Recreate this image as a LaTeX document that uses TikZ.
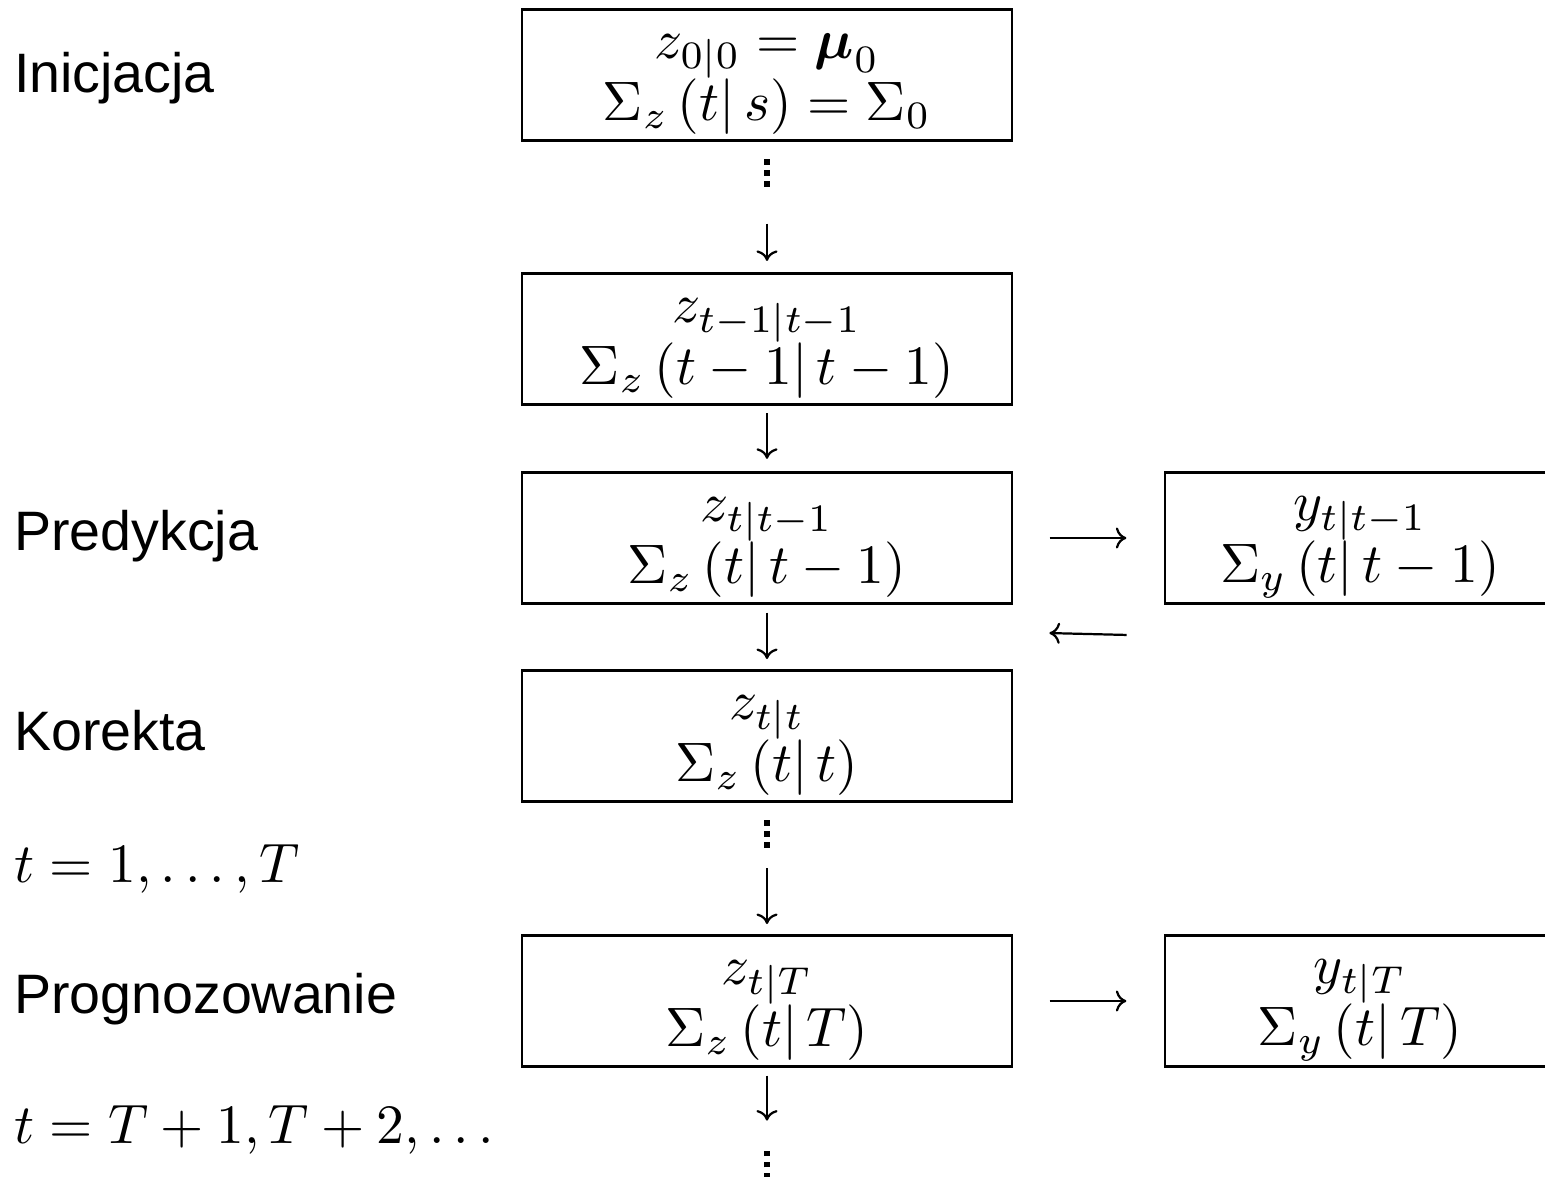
\documentclass[tikz,border=0pt]{standalone}
\usepackage{amsmath,amssymb}
\usepackage{fontspec}
\newfontfamily\labelfont{Liberation Sans}
\usetikzlibrary{arrows.meta}

\newcommand{\sqdots}{\vbox{\offinterlineskip\hbox{\rule{1pt}{1pt}}\kern1pt\hbox{\rule{1pt}{1pt}}\kern1pt\hbox{\rule{1pt}{1pt}}}}
\newcommand{\topstrut}{\rule{0pt}{7.7pt}}

\begin{document}
\begin{tikzpicture}[x=0.18pt,y=-0.18pt,
  box/.style={draw,line width=0.5pt,minimum width=88.2pt,minimum height=23.6pt,align=center,inner sep=1pt},
  obox/.style={box,minimum width=70.2pt},
  lab/.style={anchor=base west,inner sep=0pt,font=\labelfont},
  >={To[length=1.9pt,width=3.8pt]}]
\useasboundingbox (0,0) rectangle (1545,1177);
\clip (0,0) rectangle (1545,1177);
% labels
\node[lab] (L1) at (13,92) {Inicjacja};
\node[lab] (L2) at (13,550) {Predykcja};
\node[lab] (L3) at (13,750) {Korekta};
\node[lab,font=] (L4) at (13,882) {$t=1,\ldots,T$};
\node[lab] (L5) at (13,1013) {Prognozowanie};
\node[lab,font=] (L6) at (13,1143) {$t=T+1,T+2,\ldots$};
% boxes
\node[box] (A) at (767,75) {\topstrut$z_{0|0}=\boldsymbol{\mu}_0$\\[-1pt] $\Sigma_z\left(t\middle|\,s\right)=\Sigma_0$};
\node[box] (B) at (767,339) {\topstrut$z_{t-1|t-1}$\\[-1pt] $\Sigma_z\left(t-1\middle|\,t-1\right)$};
\node[box] (C) at (767,538) {\topstrut$z_{t|t-1}$\\[-1pt] $\Sigma_z\left(t\middle|\,t-1\right)$};
\node[box] (D) at (767,736) {\topstrut$z_{t|t}$\\[-1pt] $\Sigma_z\left(t\middle|\,t\right)$};
\node[box] (E) at (767,1001) {\topstrut$z_{t|T}$\\[-1pt] $\Sigma_z\left(t\middle|\,T\right)$};
\node[obox] (F) at (1360,538) {\topstrut$y_{t|t-1}$\\[-1pt] $\Sigma_y\left(t\middle|\,t-1\right)$};
\node[obox] (G) at (1360,1001) {\topstrut$y_{t|T}$\\[-1pt] $\Sigma_y\left(t\middle|\,T\right)$};
% dots
\node[inner sep=0pt] (d1) at (767,173) {\sqdots};
\node[inner sep=0pt] (d2) at (767,834) {\sqdots};
\node[inner sep=0pt] (d3) at (767,1164.5) {\sqdots};
% arrows
\draw[->,shorten <=6.4pt,shorten >=2pt] (d1) -- (B);
\draw[->,shorten <=1.3pt,shorten >=2.2pt] (B) -- (C);
\draw[->,shorten <=1.4pt,shorten >=1.8pt] (C) -- (D);
\draw[->,shorten <=3.5pt,shorten >=1.8pt] (d2) -- (E);
\draw[->,shorten <=1.4pt,shorten >=5.2pt] (E) -- (d3);
\draw[->,shorten <=6.5pt,shorten >=6.7pt] (C) -- (F);
\draw[->,shorten <=6.5pt,shorten >=6.7pt] (E) -- (G);
\path (F.south west) ++(-37,30) coordinate (fb1);
\path (D.north east) ++(36,-36) coordinate (fb2);
\draw[->] (fb1) -- (fb2);
\end{tikzpicture}
\end{document}
